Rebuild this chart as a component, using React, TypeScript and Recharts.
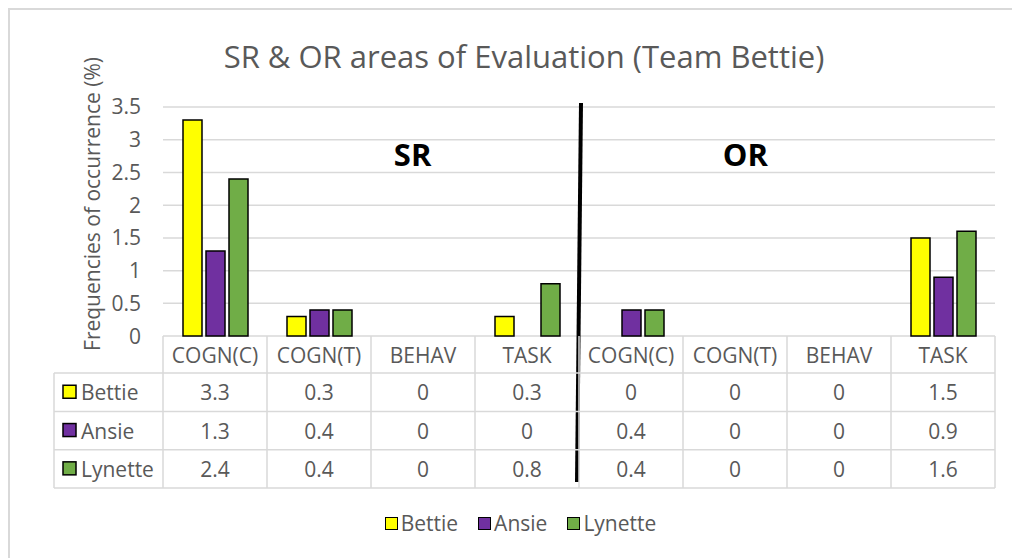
import React from 'react';
import { BarChart, Bar, XAxis, YAxis, CartesianGrid, Legend, Customized } from 'recharts';

// values
const categories = ['COGN(C)', 'COGN(T)', 'BEHAV', 'TASK', 'COGN(C)', 'COGN(T)', 'BEHAV', 'TASK'];
const bettie = [3.3, 0.3, 0, 0.3, 0, 0, 0, 1.5];
const ansie = [1.3, 0.4, 0, 0, 0.4, 0, 0, 0.9];
const lynette = [2.4, 0.4, 0, 0.8, 0.4, 0, 0, 1.6];
const seriesNames = ['Bettie', 'Ansie', 'Lynette'];
const seriesValues = [bettie, ansie, lynette];
const seriesColors = ['#FFFF00', '#7030A0', '#70AD47'];
const yTicks = [0, 0.5, 1, 1.5, 2, 2.5, 3, 3.5];
const panelLabels = ['SR', 'OR'];
const title = 'SR & OR areas of Evaluation (Team Bettie)';
const yLabel = 'Frequencies of occurrence (%)';

const W = 1012;
const H = 558;
const PLOT_LEFT = 163;
const PLOT_RIGHT = 995;
const PLOT_TOP = 107;
const BAND = (PLOT_RIGHT - PLOT_LEFT) / categories.length;
const HEADER_H = 37;
const ROW_H = 38.3;
const KEY_W = 109;
const TABLE_H = HEADER_H + ROW_H * 3;
const LEGEND_H = 70;
const GRID = '#d9d9d9';
const TEXT = '#595959';
const FONT = '"Open Sans", sans-serif';
const FS = 21;

const chartData = categories.map((cat, i) => ({
  idx: i,
  cat,
  Bettie: bettie[i],
  Ansie: ansie[i],
  Lynette: lynette[i],
}));

// each x tick draws one column of the data table
const TableTick = (props: any) => {
  const { x, y, payload } = props;
  const i = payload.index;
  const left = x - BAND / 2;
  const right = x + BAND / 2;
  const rowY = (r: number) => y + HEADER_H + ROW_H * r;
  return (
    <g>
      <line x1={left} y1={y} x2={left} y2={y + TABLE_H} stroke={GRID} strokeWidth={1.5} />
      {i === categories.length - 1 && (
        <line x1={right} y1={y} x2={right} y2={y + TABLE_H} stroke={GRID} strokeWidth={1.5} />
      )}
      {[0, 1, 2, 3].map((r) => (
        <line key={r} x1={left} y1={rowY(r)} x2={right} y2={rowY(r)} stroke={GRID} strokeWidth={1.5} />
      ))}
      <text x={x} y={y + HEADER_H / 2} textAnchor="middle" dominantBaseline="central" fill={TEXT} fontSize={FS}>
        {categories[i]}
      </text>
      {seriesValues.map((vals, r) => (
        <text key={r} x={x} y={rowY(r) + ROW_H / 2} textAnchor="middle" dominantBaseline="central" fill={TEXT} fontSize={FS}>
          {String(vals[i])}
        </text>
      ))}
      {i === 0 && (
        <g>
          <line x1={left - KEY_W} y1={rowY(0)} x2={left - KEY_W} y2={rowY(3)} stroke={GRID} strokeWidth={1.5} />
          {[0, 1, 2, 3].map((r) => (
            <line key={r} x1={left - KEY_W} y1={rowY(r)} x2={left} y2={rowY(r)} stroke={GRID} strokeWidth={1.5} />
          ))}
          {seriesNames.map((name, r) => (
            <g key={name}>
              <rect x={left - KEY_W + 9} y={rowY(r) + ROW_H / 2 - 7} width={13} height={13} fill={seriesColors[r]} stroke="#000" strokeWidth={1.5} />
              <text x={left - KEY_W + 27} y={rowY(r) + ROW_H / 2} dominantBaseline="central" fill={TEXT} fontSize={FS}>
                {name}
              </text>
            </g>
          ))}
        </g>
      )}
    </g>
  );
};

const Annotations = () => {
  const splitX = PLOT_LEFT + BAND * 4;
  return (
    <g>
      <text x={524} y={56} textAnchor="middle" dominantBaseline="central" fill={TEXT} fontSize={31} fontFamily={FONT}>
        {title}
      </text>
      <text
        x={92}
        y={204}
        transform="rotate(-90, 92, 204)"
        textAnchor="middle"
        dominantBaseline="central"
        fill={TEXT}
        fontSize={FS}
        fontFamily={FONT}
      >
        {yLabel}
      </text>
      <text x={PLOT_LEFT + BAND * 2.4} y={154} textAnchor="middle" dominantBaseline="central" fontWeight="bold" fontSize={31} fill="#000" fontFamily={FONT}>
        {panelLabels[0]}
      </text>
      <text x={PLOT_LEFT + BAND * 5.6} y={154} textAnchor="middle" dominantBaseline="central" fontWeight="bold" fontSize={31} fill="#000" fontFamily={FONT}>
        {panelLabels[1]}
      </text>
      <line x1={splitX + 2} y1={PLOT_TOP - 4} x2={splitX - 2} y2={482} stroke="#000" strokeWidth={4} />
    </g>
  );
};

const LegendContent = () => (
  <div
    style={{
      height: LEGEND_H,
      display: 'flex',
      justifyContent: 'center',
      alignItems: 'center',
      paddingLeft: 46,
      fontFamily: FONT,
      fontSize: FS,
      color: TEXT,
      gap: 20,
    }}
  >
    {seriesNames.map((name, i) => (
      <div key={name} style={{ display: 'flex', alignItems: 'center', gap: 3 }}>
        <span
          style={{
            display: 'inline-block',
            width: 11,
            height: 11,
            background: seriesColors[i],
            border: '1.5px solid #000',
          }}
        />
        <span>{name}</span>
      </div>
    ))}
  </div>
);

export default function App() {
  return (
    <div style={{ position: 'absolute', left: 0, top: 0, width: W, height: H, background: '#fff', fontFamily: FONT }}>
      <div
        style={{
          position: 'absolute',
          left: 8,
          top: 8,
          width: W,
          height: H,
          borderTop: '2px solid #d9d9d9',
          borderLeft: '2px solid #d9d9d9',
        }}
      />
      <div style={{ position: 'absolute', left: 0, top: 0 }}>
        <BarChart
          width={W}
          height={H}
          data={chartData}
          margin={{ top: PLOT_TOP, right: W - PLOT_RIGHT, left: 0, bottom: 0 }}
          barCategoryGap={20}
          barGap={4}
        >
          <CartesianGrid vertical={false} stroke={GRID} strokeWidth={1.5} />
          <YAxis
            domain={[0, 3.5]}
            ticks={yTicks}
            width={PLOT_LEFT}
            axisLine={false}
            tickLine={false}
            tickSize={0}
            tickMargin={22}
            tick={{ fill: TEXT, fontSize: FS }}
            interval={0}
          />
          <XAxis
            dataKey="idx"
            type="category"
            height={TABLE_H}
            axisLine={false}
            tickLine={false}
            tickSize={0}
            tickMargin={0}
            interval={0}
            tick={<TableTick />}
          />
          {seriesNames.map((name, i) => (
            <Bar
              key={name}
              dataKey={name}
              fill={seriesColors[i]}
              stroke="#000"
              strokeWidth={1.5}
              isAnimationActive={false}
            />
          ))}
          <Legend verticalAlign="bottom" content={<LegendContent />} />
          <Customized component={<Annotations />} />
        </BarChart>
      </div>
    </div>
  );
}
